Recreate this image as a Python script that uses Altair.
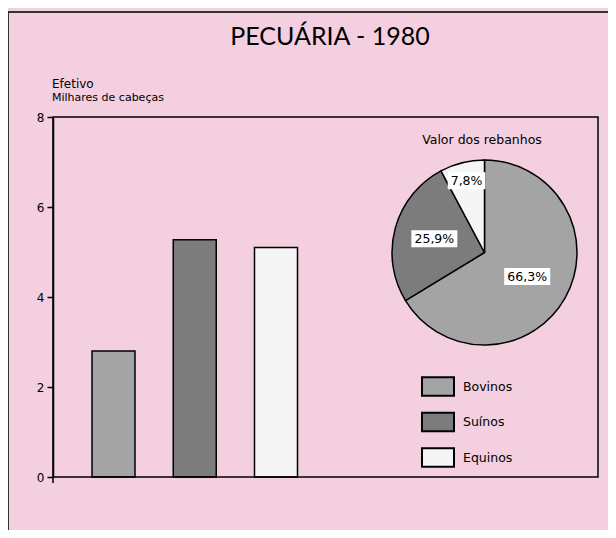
import altair as alt
import pandas as pd

# ---- data ----
animals = ["Bovinos", "Suínos", "Equinos"]
efetivo = [2.8, 5.27, 5.1]          # milhares de cabeças (bar heights)
valor_pct = [66.3, 25.9, 7.8]       # valor dos rebanhos (%)
valor_labels = ["66,3%", "25,9%", "7,8%"]
y_ticks = [0, 2, 4, 6, 8]

df = pd.DataFrame({
    "animal": animals,
    "efetivo": efetivo,
    "valor": valor_pct,
    "rotulo": valor_labels,
    "ordem": [0, 1, 2],
})
one = pd.DataFrame({"k": [0]})

TFONT = "Lato"
FONT = "DejaVu Sans"
PINK = "#f3cfdf"
W, H = 545, 360
CX, CY, R = 431.5, 135.5, 92.5

color_scale = alt.Scale(domain=animals, range=["#a4a4a4", "#7c7c7c", "#f5f5f5"])
theta_scale = alt.Scale(domain=[0, 100])

outer = alt.Chart(one).mark_rect(fill="white", fillOpacity=0, stroke="#333333", strokeWidth=2).encode(
    x=alt.value(-45), x2=alt.value(600), y=alt.value(-105), y2=alt.value(460)
)
frame = alt.Chart(one).mark_rect(fill="white", fillOpacity=0, stroke="black", strokeWidth=1.5).encode(
    x=alt.value(0), x2=alt.value(W), y=alt.value(0), y2=alt.value(H)
)

title = alt.Chart(one).mark_text(font=TFONT, fontSize=25, color="black", align="center", baseline="middle").encode(
    x=alt.value(277), y=alt.value(-80), text=alt.value("PECUÁRIA - 1980")
)
ytitle1 = alt.Chart(one).mark_text(font=FONT, fontSize=12, color="black", align="left", baseline="middle").encode(
    x=alt.value(-1), y=alt.value(-33), text=alt.value("Efetivo")
)
ytitle2 = alt.Chart(one).mark_text(font=FONT, fontSize=11, color="black", align="left", baseline="middle").encode(
    x=alt.value(-1), y=alt.value(-19), text=alt.value("Milhares de cabeças")
)
axis_ext = alt.Chart(one).mark_rule(color="black", strokeWidth=1.5).encode(
    x=alt.value(0), y=alt.value(360), y2=alt.value(366)
)

bars = alt.Chart(df).mark_bar(stroke="black", strokeWidth=1.5).encode(
    x=alt.X("animal:N", sort=animals,
            scale=alt.Scale(domain=animals, range=[0, 283.5], paddingInner=0.4708, paddingOuter=0.48),
            axis=None),
    y=alt.Y("efetivo:Q", scale=alt.Scale(domain=[0, 8], nice=False),
            axis=alt.Axis(values=y_ticks, title=None, grid=False, labelFont=FONT, labelFontSize=12,
                          labelColor="black", tickColor="black", tickSize=6, tickWidth=1.5,
                          domainColor="black", domainWidth=1.5, labelPadding=3)),
    color=alt.Color("animal:N", scale=color_scale,
                    legend=alt.Legend(title=None, orient="none", legendX=368, legendY=252.5,
                                      direction="vertical",
                                      symbolType="M-1,-0.58H1V0.58H-1Z", symbolSize=1024,
                                      symbolStrokeColor="black", symbolStrokeWidth=2, symbolOpacity=1,
                                      labelFont=FONT, labelFontSize=12.5, labelColor="black",
                                      labelOffset=8, rowPadding=4.5)),
)

pie = alt.Chart(df).mark_arc(outerRadius=R, stroke="black", strokeWidth=1.5).encode(
    theta=alt.Theta("valor:Q", stack=True, scale=theta_scale),
    color=alt.Color("animal:N", scale=color_scale, legend=None),
    order=alt.Order("ordem:Q"),
    x=alt.value(CX), y=alt.value(CY),
)

lab_base = alt.Chart(df).transform_window(
    cum="sum(valor)", sort=[alt.SortField("ordem")]
).transform_calculate(
    mid="datum.cum - datum.valor / 2",
    r="datum.animal == 'Equinos' ? 74 : (datum.animal == 'Suínos' ? 52 : 49)",
).transform_calculate(
    lx=f"{CX} + datum.r * sin(2 * PI * datum.mid / 100)",
    ly=f"{CY} - datum.r * cos(2 * PI * datum.mid / 100)",
    bw="length(datum.rotulo) * 8.4 + 4",
).transform_calculate(
    bx1="datum.lx - datum.bw / 2",
    bx2="datum.lx + datum.bw / 2",
    by1="datum.ly - 8.5",
    by2="datum.ly + 8.5",
)
lab_box = lab_base.mark_rect(fill="white", stroke=None).encode(
    x=alt.X("bx1:Q", scale=None, axis=None), x2="bx2:Q",
    y=alt.Y("by1:Q", scale=None, axis=None), y2="by2:Q",
)
lab_text = lab_base.mark_text(font=FONT, fontSize=12.5, color="black", align="center", baseline="middle").encode(
    x=alt.X("lx:Q", scale=None, axis=None),
    y=alt.Y("ly:Q", scale=None, axis=None),
    text=alt.Text("rotulo:N"),
)

pie_title = alt.Chart(one).mark_text(font=FONT, fontSize=12.5, color="black", align="center", baseline="middle").encode(
    x=alt.value(429), y=alt.value(23), text=alt.value("Valor dos rebanhos")
)

chart = alt.layer(
    outer, title, ytitle1, ytitle2, axis_ext, bars, frame, pie, lab_box, lab_text, pie_title
).properties(
    width=W, height=H,
    padding={"left": 45, "top": 109, "right": 10, "bottom": 53},
    autosize=alt.AutoSizeParams(type="none"),
    background=PINK,
).configure_view(stroke=None).configure(font=FONT)

chart.save("out.html", embed_options={"renderer": "svg", "actions": False})
